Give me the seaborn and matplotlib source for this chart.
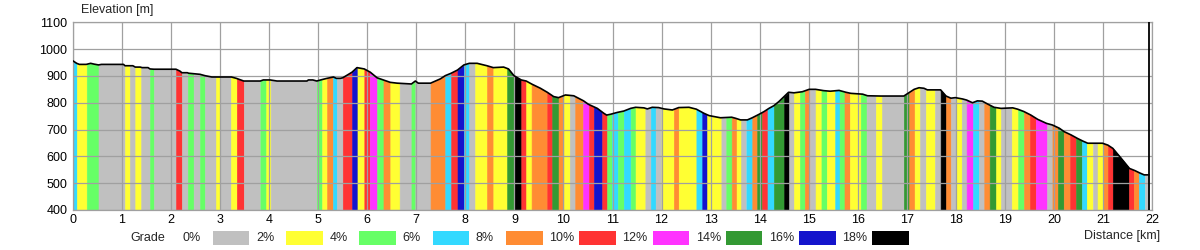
import numpy as np
import matplotlib
matplotlib.use("Agg")
import matplotlib.pyplot as plt
from matplotlib.patches import Rectangle
import seaborn as sns

# ---------------- data ----------------
profile_km = [0.00, 0.075, 0.13, 0.27, 0.36, 0.43, 0.52, 0.58, 1.03, 1.06, 1.22, 1.27, 1.37, 1.41, 1.53,
              1.57, 1.65, 2.10, 2.18, 2.22, 2.33, 2.36, 2.59, 2.69, 2.83, 3.23, 3.33, 3.48, 3.82, 3.88,
              4.02, 4.16, 4.77, 4.80, 4.89, 4.97, 5.07, 5.18, 5.31, 5.37, 5.45, 5.50, 5.69, 5.79, 5.94,
              6.06, 6.20, 6.33, 6.47, 6.61, 6.90, 6.98, 7.04, 7.29, 7.49, 7.59, 7.71, 7.84, 7.97, 8.08,
              8.24, 8.44, 8.57, 8.78, 8.88, 8.99, 9.14, 9.24, 9.36, 9.53, 9.67, 9.80, 9.90, 10.04, 10.21,
              10.41, 10.51, 10.69, 10.82, 10.88, 10.96, 11.10, 11.23, 11.37, 11.47, 11.64, 11.71, 11.81,
              11.94, 12.05, 12.22, 12.35, 12.56, 12.71, 12.86, 12.97, 13.20, 13.43, 13.51, 13.61, 13.75,
              13.85, 13.99, 14.09, 14.19, 14.29, 14.39, 14.50, 14.59, 14.70, 14.87, 15.01, 15.14, 15.31,
              15.44, 15.62, 15.76, 15.86, 16.10, 16.20, 16.47, 16.94, 17.05, 17.15, 17.25, 17.35, 17.42,
              17.69, 17.80, 17.90, 17.99, 18.14, 18.22, 18.34, 18.44, 18.54, 18.65, 18.78, 18.92, 19.16,
              19.26, 19.39, 19.53, 19.67, 19.85, 19.97, 20.11, 20.21, 20.35, 20.48, 20.59, 20.69, 20.99,
              21.10, 21.20, 21.37, 21.54, 21.65, 21.74, 21.84, 21.94]
profile_elev = [956, 947, 943, 943, 947, 944, 941, 943, 943, 938, 938, 933, 933, 931, 931,
                926, 925, 925, 918, 912, 912, 910, 906, 901, 896, 896, 891, 881, 881, 885,
                885, 881, 881, 885, 885, 881, 886, 891, 896, 891, 891, 893, 914, 931, 926,
                914, 893, 885, 876, 873, 870, 881, 873, 873, 889, 901, 910, 922, 941, 947,
                947, 938, 931, 933, 926, 901, 885, 881, 869, 854, 839, 823, 819, 829, 826,
                807, 794, 779, 761, 754, 757, 764, 769, 779, 783, 781, 777, 783,
                782, 777, 773, 782, 783, 776, 761, 752, 744, 746, 742, 736, 736,
                744, 757, 767, 779, 789, 804, 823, 839, 837, 841, 850, 850, 845,
                843, 846, 839, 835, 832, 826, 825, 825, 838, 850, 856, 854, 848,
                848, 825, 817, 819, 814, 810, 800, 807, 806, 795, 783, 779, 781,
                776, 767, 754, 738, 723, 717, 705, 692, 680, 667, 657, 649, 649,
                642, 630, 593, 555, 547, 539, 531, 531]

# start of each grade-coloured section (km) and its grade class (%)
grade_start_km = [0.00, 0.08, 0.28, 0.52, 1.06, 1.16, 1.27, 1.39, 1.57, 1.65, 2.10, 2.22, 2.34, 2.46, 2.59,
                  2.69, 2.92, 3.00, 3.22, 3.34, 3.48, 3.82, 3.94, 4.03, 4.97, 5.08, 5.18, 5.30, 5.38, 5.50,
                  5.69, 5.80, 5.94, 6.05, 6.20, 6.33, 6.47, 6.66, 6.90, 6.98, 7.29, 7.59, 7.71, 7.84, 7.97,
                  8.08, 8.20, 8.44, 8.57, 8.85, 8.99, 9.14, 9.24, 9.35, 9.67, 9.77, 9.90, 10.01, 10.13, 10.24,
                  10.40, 10.52, 10.62, 10.79, 10.89, 10.99, 11.11, 11.23, 11.37, 11.47, 11.67, 11.78, 11.88,
                  12.00, 12.25, 12.35, 12.71, 12.83, 12.93, 13.22, 13.32, 13.43, 13.53, 13.63, 13.73, 13.85,
                  13.95, 14.05, 14.16, 14.29, 14.50, 14.60, 14.70, 14.82, 14.92, 15.02, 15.14, 15.26, 15.37,
                  15.54, 15.63, 15.73, 15.84, 16.06, 16.18, 16.37, 16.50, 16.94, 17.05, 17.16, 17.27, 17.39,
                  17.57, 17.69, 17.80, 17.90, 18.01, 18.12, 18.22, 18.35, 18.47, 18.58, 18.69, 18.82, 18.92,
                  19.14, 19.27, 19.39, 19.51, 19.63, 19.86, 19.97, 20.08, 20.20, 20.33, 20.45, 20.57, 20.67,
                  20.79, 20.89, 21.01, 21.10, 21.20, 21.53, 21.63, 21.73, 21.85]
grade_class = [6, 2, 4, 0, 2, 0, 2, 0, 4, 0, 10, 0, 4, 0, 4,
               0, 2, 0, 2, 10, 0, 4, 2, 0, 4, 2, 8, 6, 0, 10,
               16, 2, 10, 12, 4, 8, 2, 0, 4, 0, 8, 6, 10, 16, 6,
               0, 2, 8, 2, 14, 18, 10, 2, 8, 10, 14, 8, 2, 0, 8,
               12, 10, 16, 10, 4, 6, 4, 6, 4, 2, 0, 6, 0,
               2, 8, 2, 6, 16, 2, 0, 4, 8, 2, 0, 6, 8,
               14, 10, 6, 14, 18, 0, 2, 4, 8, 0, 2, 4, 2,
               6, 4, 8, 2, 4, 0, 2, 0, 14, 8, 2, 0, 2,
               0, 18, 8, 0, 2, 0, 12, 6, 0, 8, 14, 2, 0,
               2, 4, 8, 10, 12, 0, 8, 14, 8, 10, 14, 6, 2,
               0, 2, 8, 10, 18, 10, 8, 6, 0]
route_end_km = 21.94

legend_grades = [0, 2, 4, 6, 8, 10, 12, 14, 16, 18]
grade_colors = {0: "#c0c0c0", 2: "#ffff33", 4: "#66ff66", 6: "#33d9ff", 8: "#ff8c33",
                10: "#ff3333", 12: "#ff33ff", 14: "#339933", 16: "#1414cc", 18: "#000000"}

# ---------------- figure ----------------
sns.set_style("white")
plt.rcParams["font.family"] = ["Liberation Sans", "DejaVu Sans"]

fig = plt.figure(figsize=(12, 2.5), dpi=100)
ax = fig.add_axes([73 / 1200, 40 / 250, (1152 - 73) / 1200, (210 - 22.3) / 250])

pk = np.array(profile_km)
pe = np.array(profile_elev, dtype=float)
starts = list(grade_start_km)
ends = starts[1:] + [route_end_km]
for a, b, g in zip(starts, ends, grade_class):
    inner = pk[(pk > a) & (pk < b)]
    xs = np.concatenate([[a], inner, [b]])
    ys = np.interp(xs, pk, pe)
    ax.fill_between(xs, 400, ys, color=grade_colors[g], linewidth=0.4,
                    edgecolor=grade_colors[g], zorder=1)

sns.lineplot(x=profile_km, y=profile_elev, color="black", linewidth=1.2, ax=ax, zorder=4,
             sort=False, estimator=None)
ax.axvline(route_end_km, color="black", linewidth=1.3, zorder=4)

ax.set_xlim(0, 22)
ax.set_ylim(400, 1100)
ax.set_xticks(range(0, 23))
ax.set_yticks(range(400, 1101, 100))
ax.set_xlabel("")
ax.set_ylabel("")
ax.tick_params(axis="both", length=0, labelsize=9, colors="black")
ax.tick_params(axis="x", pad=3)
ax.tick_params(axis="y", pad=4)
ax.set_axisbelow(False)
ax.grid(True, color="#a0a0a0", linewidth=0.9, zorder=2.5)
for s in ax.spines.values():
    s.set_color("#a0a0a0")
    s.set_linewidth(0.9)

fig.text(81 / 1200, 1 - 10 / 250, "Elevation [m]", fontsize=9, ha="left", va="center")
fig.text(1160 / 1200, 1 - 236 / 250, "Distance [km]", fontsize=9, ha="right", va="center")

# grade legend
fig.text(130 / 1200, 1 - 238 / 250, "Grade", fontsize=9, ha="left", va="center")
step = 73.3
for i, g in enumerate(legend_grades):
    x0 = 212.7 + step * i
    fig.text((x0 - 30) / 1200, 1 - 238 / 250, f"{g}%", fontsize=9, ha="left", va="center")
    fig.add_artist(Rectangle((x0 / 1200, (250 - 245) / 250), 36.6 / 1200, 14.3 / 250,
                             transform=fig.transFigure, facecolor=grade_colors[g],
                             edgecolor="none"))

fig.savefig("out.png", dpi=100)
